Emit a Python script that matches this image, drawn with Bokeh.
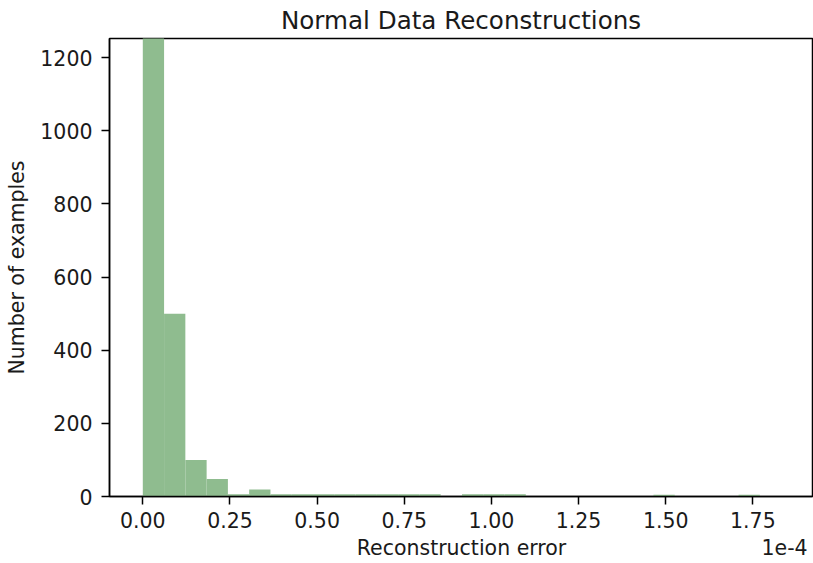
import numpy as np
from bokeh.plotting import figure
from bokeh.models import FixedTicker, NumeralTickFormatter, Range1d, LinearAxis
from bokeh.embed import file_html
from bokeh.resources import INLINE

# ---- data (reconstruction error histogram, x in units of 1e-4) ----
err_min = 0.0          # x 1e-4
err_max = 1.770        # x 1e-4
counts = [1620, 500, 100, 48, 6, 19, 6, 6, 6, 6, 6, 6, 6, 6, 0,
          6, 6, 6, 0, 0, 0, 0, 0, 0, 5, 0, 0, 0, 5]
x_ticks = [0.0, 0.25, 0.5, 0.75, 1.0, 1.25, 1.5, 1.75]
y_ticks = [0, 200, 400, 600, 800, 1000, 1200]
title_text = "Normal Data Reconstructions"
x_label = "Reconstruction error"
y_label = "Number of examples"
offset_text = "1e-4"

edges = np.linspace(err_min, err_max, len(counts) + 1)

FONT = "DejaVu Sans"
TXT = "#1a1a1a"
FS = "20.5px"

p = figure(width=813, height=563, output_backend="svg", toolbar_location=None,
           x_range=Range1d(-0.0955, 1.921), y_range=Range1d(0, 1252.6),
           min_border_left=109, min_border_right=1, min_border_top=37,
           min_border_bottom=67)
p.background_fill_color = "white"
p.border_fill_color = "white"
p.outline_line_color = "black"
p.outline_line_width = 1.5
p.xgrid.visible = False
p.ygrid.visible = False

p.title.text = title_text
p.title.align = "center"
p.title.offset = 4
p.title.standoff = 7
p.title.text_font = FONT
p.title.text_font_size = "24.6px"
p.title.text_font_style = "normal"
p.title.text_color = TXT

p.quad(left=edges[:-1], right=edges[1:], bottom=0, top=counts,
       fill_color="#8fbc8f", line_color=None)

for ax in (p.xaxis[0], p.yaxis[0]):
    ax.axis_line_color = "black"
    ax.axis_line_width = 1.5
    ax.major_tick_line_color = "black"
    ax.major_tick_line_width = 1.5
    ax.major_tick_in = 0
    ax.major_tick_out = 8
    ax.minor_tick_line_color = None
    ax.major_label_text_font = FONT
    ax.major_label_text_font_size = FS
    ax.major_label_text_color = TXT
    ax.axis_label_text_font = FONT
    ax.axis_label_text_font_size = FS
    ax.axis_label_text_font_style = "normal"
    ax.axis_label_text_color = TXT

p.xaxis[0].ticker = FixedTicker(ticks=x_ticks)
p.xaxis[0].formatter = NumeralTickFormatter(format="0.00")
p.xaxis[0].major_label_standoff = 7

p.yaxis[0].ticker = FixedTicker(ticks=y_ticks)
p.yaxis[0].major_label_standoff = 9
p.yaxis[0].axis_label = y_label
p.yaxis[0].axis_label_standoff = 8

# second row below the x axis: axis label and the 1e-4 offset text
label_pos = [0.9142, 1.841]
lab_axis = LinearAxis(ticker=FixedTicker(ticks=label_pos),
                      major_label_overrides={label_pos[0]: x_label,
                                             label_pos[1]: offset_text},
                      axis_line_color=None, major_tick_line_color=None,
                      minor_tick_line_color=None, major_tick_in=0,
                      major_tick_out=0, major_label_standoff=5,
                      major_label_text_font=FONT, major_label_text_font_size=FS,
                      major_label_text_color=TXT)
p.add_layout(lab_axis, "below")

open("out.html", "w").write(file_html(p, INLINE))
